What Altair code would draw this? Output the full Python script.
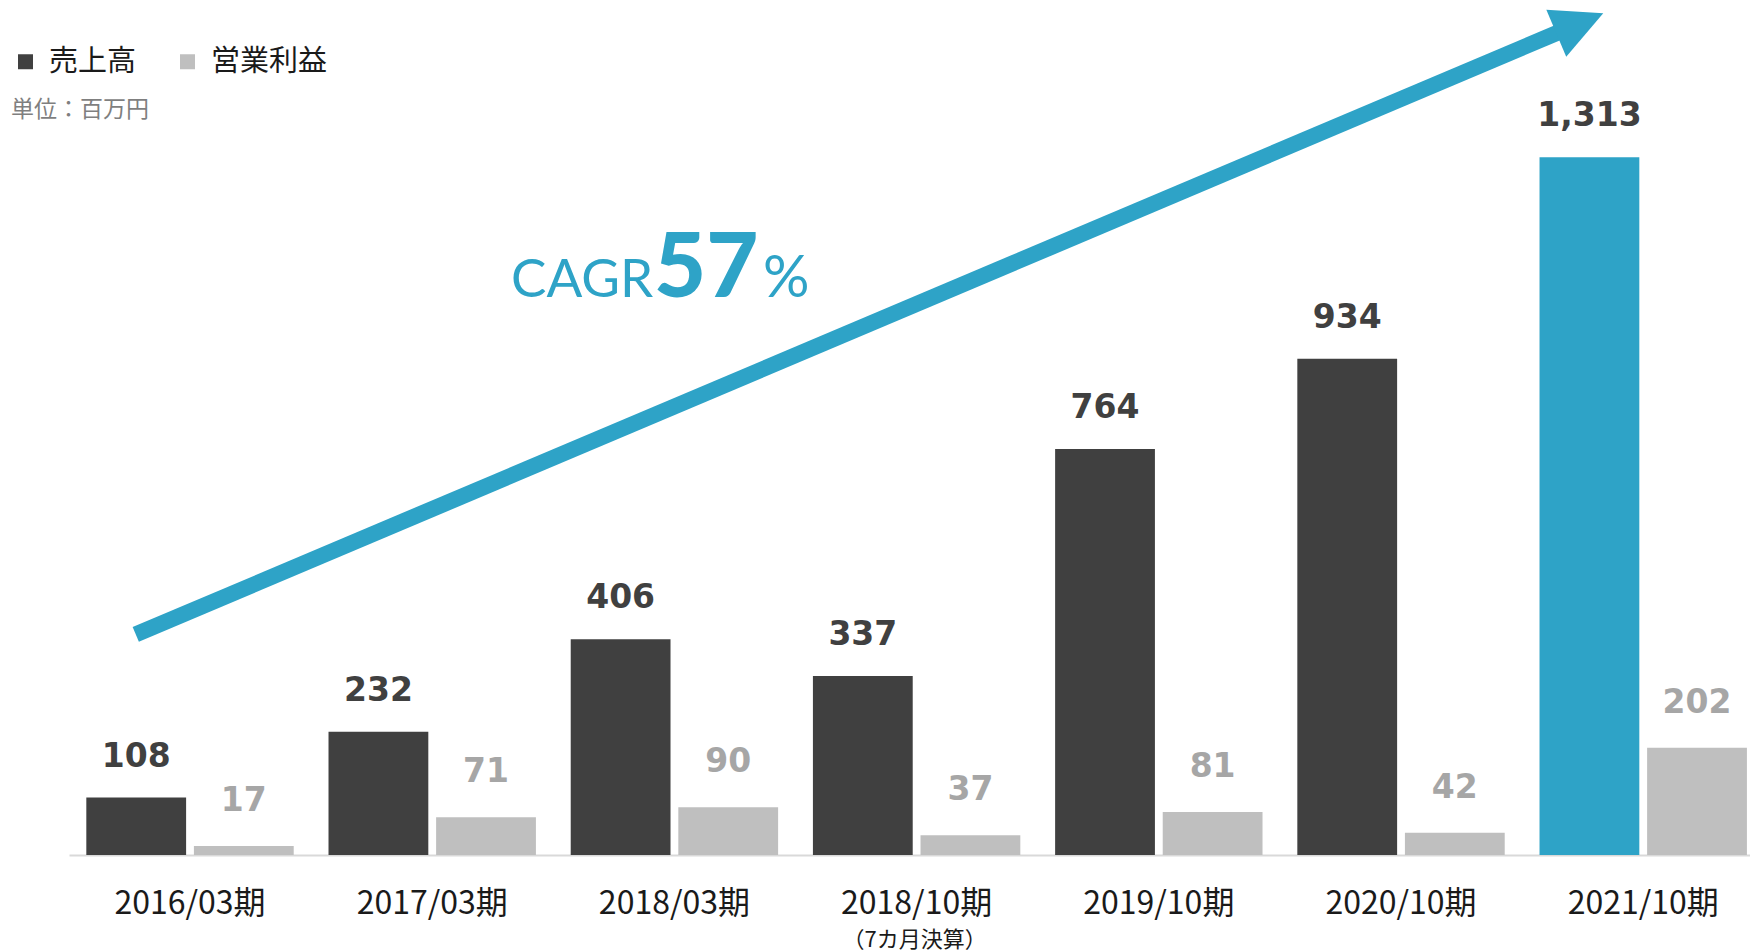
import altair as alt
import pandas as pd

# ---------------- data ----------------
periods = ["2016/03期", "2017/03期", "2018/03期", "2018/10期", "2019/10期", "2020/10期", "2021/10期"]
sales = [108, 232, 406, 337, 764, 934, 1313]
operating_profit = [17, 71, 90, 37, 81, 42, 202]
series = ["売上高", "営業利益"]
highlight_period = "2021/10期"
note_period = "2018/10期"
note_text = "（7カ月決算）"
unit_text = "単位：百万円"
cagr_parts = ["CAGR", "57", "%"]

# growth arrow annotation: (category index, value) of tail and head
arrow_index = [-0.224, 5.738]
arrow_value = [415, 1565]

# ---------------- styles ----------------
DARK = "#404040"
LIGHT = "#BFBFBF"
BLUE = "#2EA3C7"
LIGHT_LABEL = "#A6A6A6"
TEXT = "#1a1a1a"

W, H = 1681, 744
Y_MAX = 1400
P_IN, P_OUT, ALIGN = 0.1437, 0.0421, 0.849

n = len(periods)
step = W / (n - P_IN + 2 * P_OUT)
bw = step * (1 - P_IN)
start0 = ALIGN * (W - step * (n - P_IN))
c0 = start0 + bw / 2
x_lo, x_hi = -c0 / step, (W - c0) / step

rows = []
for p, s, o in zip(periods, sales, operating_profit):
    rows.append({"期": p, "系列": series[0], "値": s,
                 "色": "強調" if p == highlight_period else series[0], "ラベル": f"{s:,}"})
    rows.append({"期": p, "系列": series[1], "値": o, "色": series[1], "ラベル": f"{o:,}"})
df = pd.DataFrame(rows)

x_scale = alt.Scale(domain=periods, paddingInner=P_IN, paddingOuter=P_OUT, align=ALIGN, round=False)
xoff_scale = alt.Scale(domain=series, paddingInner=0.0725, paddingOuter=0)
y_scale = alt.Scale(domain=[0, Y_MAX], nice=False, zero=True)

x_axis = alt.Axis(title=None, labelAngle=0, labelFont="Noto Sans CJK JP", labelFontSize=32,
                  labelColor=TEXT, labelBaseline="alphabetic", labelPadding=58,
                  ticks=False, tickSize=0, domainColor="#D9D9D9", domainWidth=2, grid=False)
x_enc = alt.X("期:N", scale=x_scale, sort=periods, axis=x_axis)
xo_enc = alt.XOffset("系列:N", scale=xoff_scale, sort=series)
y_enc = alt.Y("値:Q", scale=y_scale, axis=None)

base = alt.Chart(df)

bars = base.mark_bar().encode(
    x=x_enc, xOffset=xo_enc, y=y_enc,
    color=alt.Color("色:N",
                    scale=alt.Scale(domain=[series[0], series[1], "強調"], range=[DARK, LIGHT, BLUE]),
                    legend=alt.Legend(orient="none", legendX=-58, legendY=-64, direction="horizontal",
                                      title=None, values=series, symbolType="square", symbolSize=225,
                                      symbolStrokeWidth=0, labelFont="Noto Sans CJK JP",
                                      labelFontSize=29, labelColor=TEXT, labelOffset=9,
                                      columnPadding=36, padding=0, labelLimit=400)),
)

sales_labels = base.transform_filter(alt.datum["系列"] == series[0]).mark_text(
    font="DejaVu Sans", fontWeight="bold", fontSize=33, color=DARK, baseline="alphabetic", dy=-31
).encode(x=x_enc, xOffset=xo_enc, y=y_enc, text="ラベル:N")

profit_labels = base.transform_filter(alt.datum["系列"] == series[1]).mark_text(
    font="DejaVu Sans", fontWeight="bold", fontSize=33, color=LIGHT_LABEL, baseline="alphabetic", dy=-35
).encode(x=x_enc, xOffset=xo_enc, y=y_enc, text="ラベル:N")

note = alt.Chart(pd.DataFrame({"期": [note_period], "注": [note_text]})).mark_text(
    font="Noto Sans CJK JP", fontSize=22, color=TEXT, baseline="alphabetic", dx=-2
).encode(x=x_enc, y=alt.value(836), text="注:N")

unit = alt.Chart(pd.DataFrame({"t": [unit_text]})).mark_text(
    font="Noto Sans CJK JP", fontSize=23, color="#7F7F7F", align="left", baseline="middle"
).encode(text="t:N", x=alt.value(-58), y=alt.value(-1))

cagr1 = alt.Chart(pd.DataFrame({"t": [cagr_parts[0]]})).mark_text(
    font="Lato", fontSize=53, color=BLUE, align="left", baseline="alphabetic"
).encode(text="t:N", x=alt.value(442), y=alt.value(186))
cagr2 = alt.Chart(pd.DataFrame({"t": [cagr_parts[1]]})).mark_text(
    font="Lato", fontWeight=900, fontSize=90, color=BLUE, align="left", baseline="alphabetic"
).encode(text="t:N", x=alt.value(585), y=alt.value(186))
cagr3 = alt.Chart(pd.DataFrame({"t": [cagr_parts[2]]})).mark_text(
    font="Lato", fontSize=58, color=BLUE, align="left", baseline="alphabetic"
).encode(text="t:N", x=alt.value(694), y=alt.value(186))

inner = alt.layer(bars, sales_labels, profit_labels, note, unit, cagr1, cagr2, cagr3)

arrow_df = pd.DataFrame({"i": arrow_index, "v": arrow_value})
ax_enc = alt.X("i:Q", scale=alt.Scale(domain=[x_lo, x_hi], nice=False, zero=False), axis=None)
ay_enc = alt.Y("v:Q", scale=y_scale, axis=None)

arrow_line = alt.Chart(arrow_df).mark_line(color=BLUE, strokeWidth=16, strokeCap="butt").encode(
    x=ax_enc, y=ay_enc)
arrow_head = alt.Chart(arrow_df.tail(1)).mark_point(
    shape="M1,0L-1,-1L-1,1Z", size=2601, angle=337.05, filled=True, color=BLUE, opacity=1
).encode(x=ax_enc, y=ay_enc)

chart = alt.layer(inner, arrow_line, arrow_head).resolve_scale(x="independent").properties(
    width=W, height=H,
    autosize=alt.AutoSizeParams(type="none"),
    padding={"left": 61, "top": 103, "right": 0, "bottom": 97},
    background="white",
).configure_view(strokeWidth=0)

chart.save("out.html", embed_options={"renderer": "svg", "actions": False})
